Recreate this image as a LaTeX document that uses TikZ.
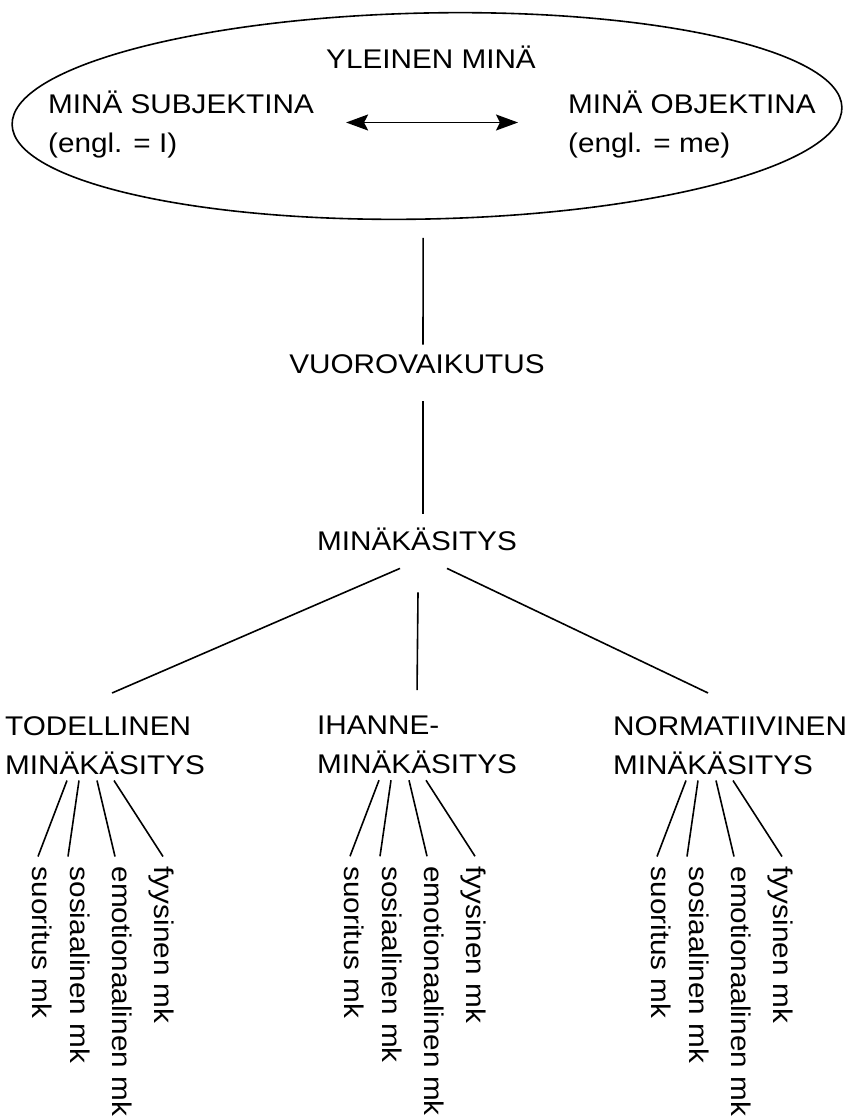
\documentclass[tikz,border=0pt]{standalone}
\usepackage{fontspec}
\newfontfamily\diagfont{Liberation Sans}[FakeStretch=1.1]
\usepackage{tikz}
\usetikzlibrary{positioning,arrows.meta,calc,shapes.geometric}
\tikzset{
  txt-base/.style={inner sep=0pt,font=\diagfont\fontsize{27}{39}\selectfont},
  txt/.style={txt-base,text height=0.72em,text depth=0.22em},
  head-box/.style={txt-base,align=left,anchor=north west},
  leaf/.style={txt,rotate=-90,anchor=west},
  link/.style={line width=1.6pt,draw=black},
  link-both/.style={link,arrows={Stealth[length=22pt,width=16pt,inset=4pt]-Stealth[length=22pt,width=16pt,inset=4pt]}},
}
\begin{document}
\begin{tikzpicture}[x=1pt,y=-1pt]
  \useasboundingbox (0,0) rectangle (844,1119);
  % yleinen minä
  \node[draw,line width=1.6pt,ellipse,minimum width=830pt,minimum height=206pt,
    rotate=1.2] (self) at (427,116) {};
  \node[txt,anchor=base] (yleinen) at (431,68) {YLEINEN MINÄ};
  \node[txt,anchor=base west] (subj) at (48,113) {MINÄ SUBJEKTINA};
  \node[txt,anchor=base west] (subj-en) at (48,152) {(engl. = I)};
  \node[txt,anchor=base west] (obj) at (568,113) {MINÄ OBJEKTINA};
  \node[txt,anchor=base west] (obj-en) at (568,152) {(engl. = me)};
  \draw[link-both] ($(subj.east)+(32,12)$) -- ($(obj.west)+(-50,12)$);

  \node[txt,anchor=base] (vuoro) at (417,373) {VUOROVAIKUTUS};
  \node[txt,anchor=base] (mink) at (417,550) {MINÄKÄSITYS};
  \draw[link] ($(self.south)+(-6,18)$) -- ($(vuoro.north)+(6,-21)$);
  \draw[link] ($(vuoro.south)+(6,26)$) -- ($(mink.north)+(6,-29)$);

  % kolme minäkäsitystä
  \node[head-box] (todell) at (5,716) {TODELLINEN\\MINÄKÄSITYS};
  \node[head-box] (ihanne) at (317,716) {IHANNE-\\MINÄKÄSITYS};
  \node[head-box] (norm) at (613,716) {NORMATIIVINEN\\MINÄKÄSITYS};
  \draw[link] ($(mink.south)+(-17,16)$) -- ($(todell.north)+(7,-23)$);
  \draw[link] ($(mink.south)+(1,40)$) -- ($(ihanne.north)+(0,-26)$);
  \draw[link] ($(mink.south)+(30,16)$) -- ($(norm.north)+(-22,-23)$);

  \foreach \grp/\shift in {todell/0,ihanne/0,norm/11} {
    \foreach \leaf/\name/\tc/\ls/\le in {a/suoritus mk/30/62/33,
        b/sosiaalinen mk/68/74/63,c/emotionaalinen mk/110/92/110,
        d/fyysinen mk/152/109/158} {
      \node[leaf] (\grp-\leaf) at ($(\grp.south west)+(\shift+\tc,92)$) {\name};
      \draw[link] ($(\grp.south west)+(\shift+\ls,6)$)
        -- ($(\grp-\leaf.west)+(\le-\tc,-10)$);
    }
  }
\end{tikzpicture}
\end{document}
